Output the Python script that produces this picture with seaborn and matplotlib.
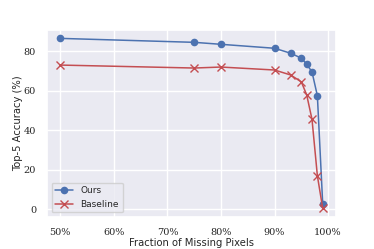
import numpy as np
import pandas as pd
import matplotlib
matplotlib.use('Agg')
import matplotlib.pyplot as plt
import seaborn as sns
from matplotlib.ticker import PercentFormatter

# values
missing = [0.50, 0.75, 0.80, 0.90, 0.93, 0.95, 0.96, 0.97, 0.98, 0.99]
ours = [86.5, 84.5, 83.5, 81.5, 79.0, 76.5, 73.5, 69.5, 57.5, 2.5]
baseline = [73.0, 71.5, 72.0, 70.5, 68.0, 64.5, 58.0, 45.5, 17.0, 0.5]

sns.set_theme(style='darkgrid')
plt.rcParams['font.family'] = ['DejaVu Sans']

df = pd.DataFrame({
    'missing': missing * 2,
    'acc': ours + baseline,
    'method': ['Ours'] * len(ours) + ['Baseline'] * len(baseline),
})

fig, ax = plt.subplots(figsize=(3.74, 2.49), dpi=100)
fig.subplots_adjust(left=0.126, right=0.898, bottom=0.129, top=0.88)

blue, red = '#4C72B0', '#C44E52'
sns.lineplot(data=df[df.method == 'Ours'], x='missing', y='acc', color=blue,
             marker='o', markersize=5.5, markeredgewidth=0, linewidth=1.1,
             label='Ours', ax=ax)
sns.lineplot(data=df[df.method == 'Baseline'], x='missing', y='acc', color=red,
             marker='x', markersize=5.5, markeredgewidth=1.0, markeredgecolor=red,
             linewidth=1.1, linestyle='-', label='Baseline', ax=ax)

ax.xaxis.set_major_formatter(PercentFormatter(1.0, decimals=0))
ax.set_xticks([0.5, 0.6, 0.7, 0.8, 0.9, 1.0])
ax.set_yticks([0, 20, 40, 60, 80])
ax.tick_params(labelsize=7, pad=2)
for lbl in ax.get_xticklabels() + ax.get_yticklabels():
    lbl.set_family('DejaVu Serif')
ax.set_xlabel('Fraction of Missing Pixels', fontsize=7.2, labelpad=1)
ax.set_ylabel('Top-5 Accuracy (%)', fontsize=7.2, labelpad=0.5)
ax.legend(loc='lower left', fontsize=6.5, frameon=True)

plt.savefig('out.png', dpi=100)
